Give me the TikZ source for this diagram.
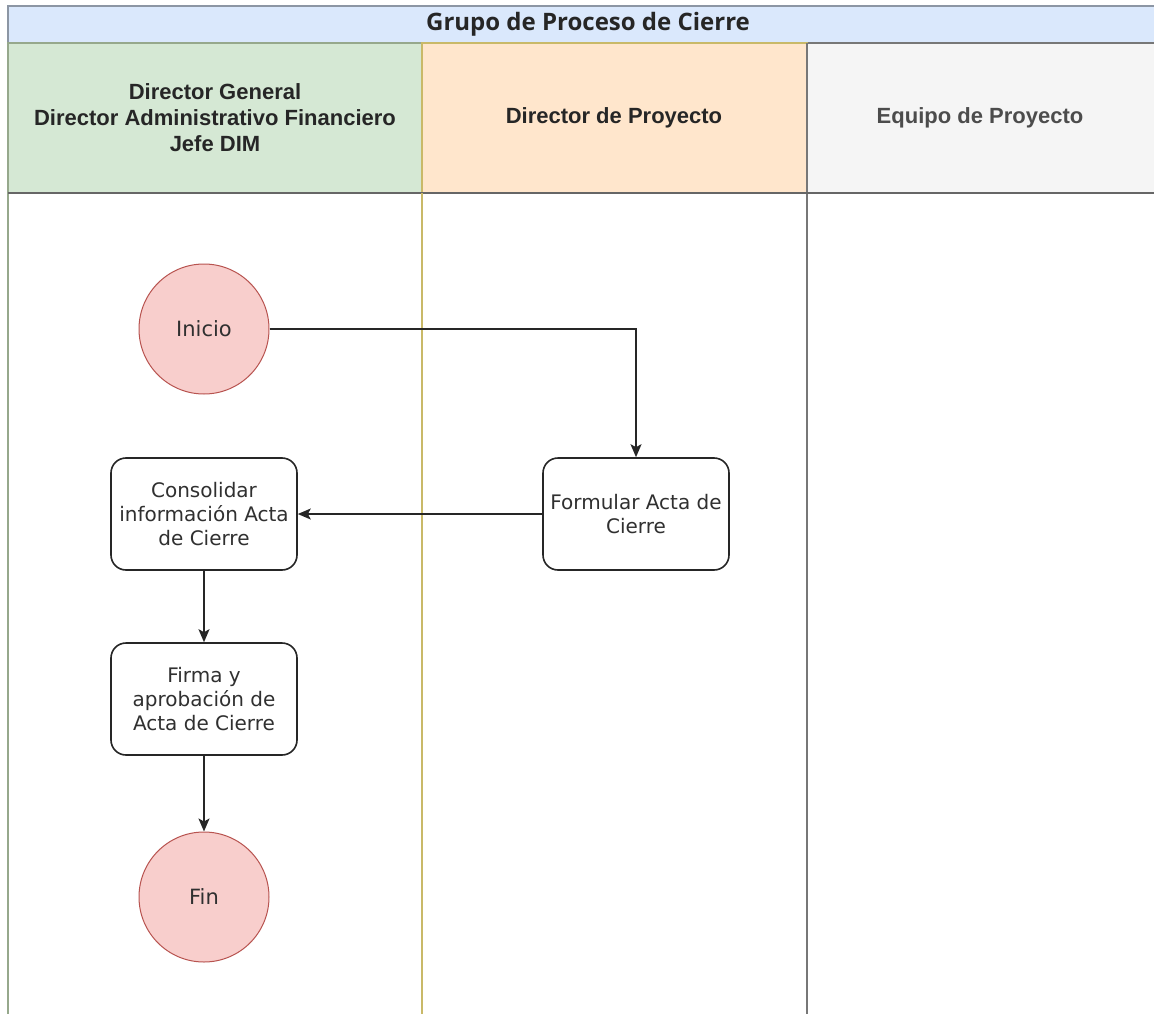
\documentclass[tikz,border=0pt]{standalone}
\usepackage{fontspec}
\setmainfont{DejaVu Sans}
\newfontfamily\titlefont{Open Sans}
\newfontfamily\lanefont{Liberation Sans}
\usetikzlibrary{arrows.meta}

\definecolor{poolfill}{HTML}{DAE8FC}
\definecolor{poolline}{HTML}{8C96A4}
\definecolor{greenfill}{HTML}{D5E8D4}
\definecolor{greenline}{HTML}{96A88C}
\definecolor{orangefill}{HTML}{FFE6CC}
\definecolor{yellowline}{HTML}{C9B968}
\definecolor{grayfill}{HTML}{F5F5F5}
\definecolor{grayline}{HTML}{777777}
\definecolor{termfill}{HTML}{F8CECC}
\definecolor{termline}{HTML}{B85450}
\definecolor{inktext}{HTML}{303030}

\tikzset{
  lanehead/.style={font=\lanefont\bfseries\fontsize{22}{26}\selectfont, align=center, text=black!85},
  terminal/.style={circle, draw=termline, line width=1pt, fill=termfill, minimum size=130pt,
                   inner sep=0pt, text=inktext, font=\fontsize{21}{24}\selectfont},
  task/.style={draw=black!85, line width=1.6pt, fill=white, rounded corners=15pt,
               minimum width=186pt, minimum height=112pt, inner sep=2pt, align=center,
               text=inktext, font=\fontsize{20}{24}\selectfont},
  flow/.style={draw=black!85, line width=1.6pt,
               -{Stealth[length=13pt, width=11pt, inset=3pt]}}
}

\begin{document}
\begin{tikzpicture}[x=1pt, y=-1pt]
\useasboundingbox (0,0) rectangle (1154,1014);
\clip (0,0) rectangle (1154,1014);
\fill[white] (0,0) rectangle (1154,1014);

% pool title bar
\draw[poolline, line width=1.3pt, fill=poolfill] (8,6) rectangle (1168,43);
\node[font=\titlefont\bfseries\fontsize{24}{28}\selectfont, text=black!85] (pooltitle) at (588,24.5) {Grupo de Proceso de Cierre};

% lane bodies
\draw[grayline, line width=1.5pt, fill=white] (807,193) rectangle (1168,1030);
\draw[greenline, line width=1.5pt, fill=white] (8,193) rectangle (422,1030);
\draw[yellowline, line width=1.5pt, fill=white] (422,193) rectangle (807,1030);
\draw[grayline, line width=1.5pt] (807,193) -- (807,1030);

% lane headers
\draw[greenline, line width=1.5pt, fill=greenfill] (8,43) rectangle (422,193);
\draw[grayline, line width=1.5pt, fill=grayfill] (807,43) rectangle (1168,193);
\draw[yellowline, line width=1.5pt, fill=orangefill] (422,43) rectangle (807,193);
\draw[grayline, line width=1.5pt] (807,43) -- (807,193);
\draw[black!60, line width=1.5pt] (8,193) -- (1168,193);
\draw[yellowline, line width=1.5pt] (422,193) -- (422,1030);

\node[lanehead] (lane1) at (215,118) {Director General\\Director Administrativo Financiero\\Jefe DIM};
\node[lanehead] (lane2) at (614,118) {Director de Proyecto};
\node[lanehead, text=black!70] (lane3) at (980,118) {Equipo de Proyecto};

% activities
\node[terminal] (inicio) at (204,329) {Inicio};
\node[task] (formular) at (636,514) {Formular Acta de\\Cierre};
\node[task] (consolidar) at (204,514) {Consolidar\\información Acta\\de Cierre};
\node[task] (firma) at (204,699) {Firma y\\aprobación de\\Acta de Cierre};
\node[terminal] (fin) at (204,897) {Fin};

% connectors
\draw[flow] (inicio.east) -| (formular.north);
\draw[flow] (formular.west) -- (consolidar.east);
\draw[flow] (consolidar.south) -- (firma.north);
\draw[flow] (firma.south) -- (fin.north);
\end{tikzpicture}
\end{document}
